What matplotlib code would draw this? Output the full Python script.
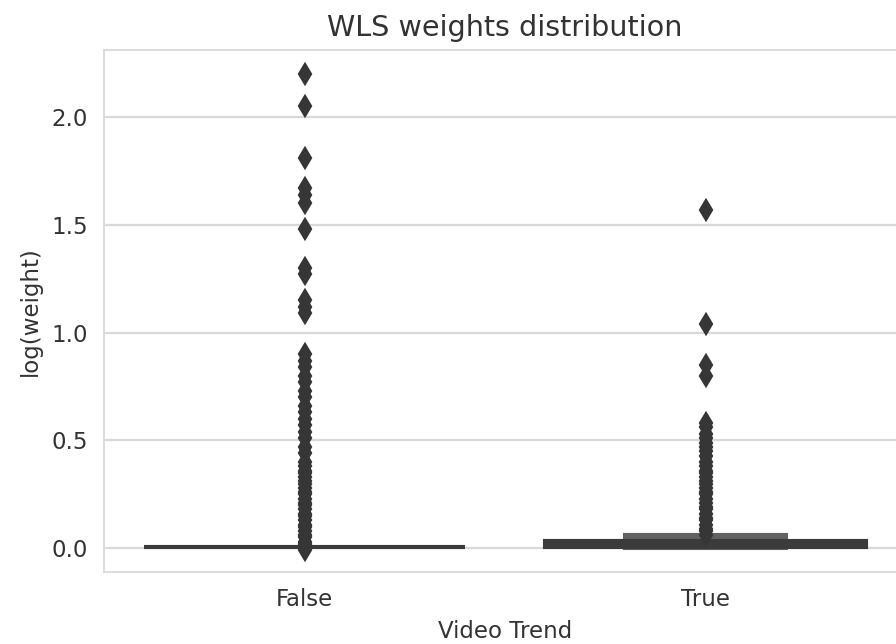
import matplotlib.pyplot as plt
import seaborn as sns

sns.set_style("whitegrid")

categories = ['False', 'True']

# letter-value boxes per group: (lower, upper, relative width), widest first
false_boxes = [(0.004, 0.007, 0.8)]
true_boxes = [(0.004, 0.032, 0.8), (0.0, 0.06, 0.4)]

false_outliers = [2.20, 2.05, 1.81, 1.67, 1.64, 1.60, 1.48, 1.30, 1.27, 1.15, 1.12, 1.09,
                  0.90, 0.87, 0.84, 0.80, 0.77, 0.73, 0.70, 0.66, 0.63, 0.60, 0.57, 0.54,
                  0.51, 0.47, 0.44, 0.40, 0.38, 0.36, 0.35, 0.33, 0.31, 0.30, 0.28, 0.26,
                  0.25, 0.23, 0.21, 0.20, 0.18, 0.16, 0.15, 0.13, 0.11, 0.10, 0.08, 0.06,
                  0.05, 0.03, 0.02, 0.01, -0.01]
true_outliers = [1.57, 1.04, 0.85, 0.80, 0.58, 0.56, 0.53, 0.51, 0.49, 0.47, 0.45, 0.43,
                 0.40, 0.38, 0.36, 0.35, 0.33, 0.31, 0.30, 0.28, 0.26, 0.25, 0.23, 0.21,
                 0.19, 0.18, 0.16, 0.14, 0.13, 0.11, 0.09, 0.08, 0.06]

box_colors = ['#3b3b3b', '#626262']
point_color = '#363636'

fig = plt.figure(figsize=(896 / 165, 644 / 165), dpi=165)
ax = fig.add_axes([104 / 896, 72 / 644, 802 / 896, 522 / 644])

for i, (boxes, outliers) in enumerate([(false_boxes, false_outliers),
                                       (true_boxes, true_outliers)]):
    # draw narrow (outer) boxes first so the wide IQR box sits on top
    for k in reversed(range(len(boxes))):
        lo, hi, w = boxes[k]
        ax.bar(i, hi - lo, bottom=lo, width=w, color=box_colors[k],
               edgecolor=box_colors[k], linewidth=1.8, zorder=2 + (len(boxes) - k))
    ax.plot([i] * len(outliers), outliers, linestyle='none', marker='d',
            markersize=6, color=point_color, zorder=5)

ax.set_xticks(range(len(categories)))
ax.set_xticklabels(categories)
ax.set_xlim(-0.5, 1.5)
ax.set_ylim(-0.11, 2.31)
ax.set_yticks([0.0, 0.5, 1.0, 1.5, 2.0])
ax.grid(axis='x', visible=False)
ax.grid(axis='y', color='.85', linewidth=1)
for s in ax.spines.values():
    s.set_color('.85')

ax.set_title('WLS weights distribution', fontsize=12.5, color='.2')
ax.set_xlabel('Video Trend', fontsize=10, color='.2')
ax.set_ylabel('log(weight)', fontsize=10, color='.2')
ax.tick_params(labelsize=10, colors='.2')

fig.savefig('out.png', dpi=165)
